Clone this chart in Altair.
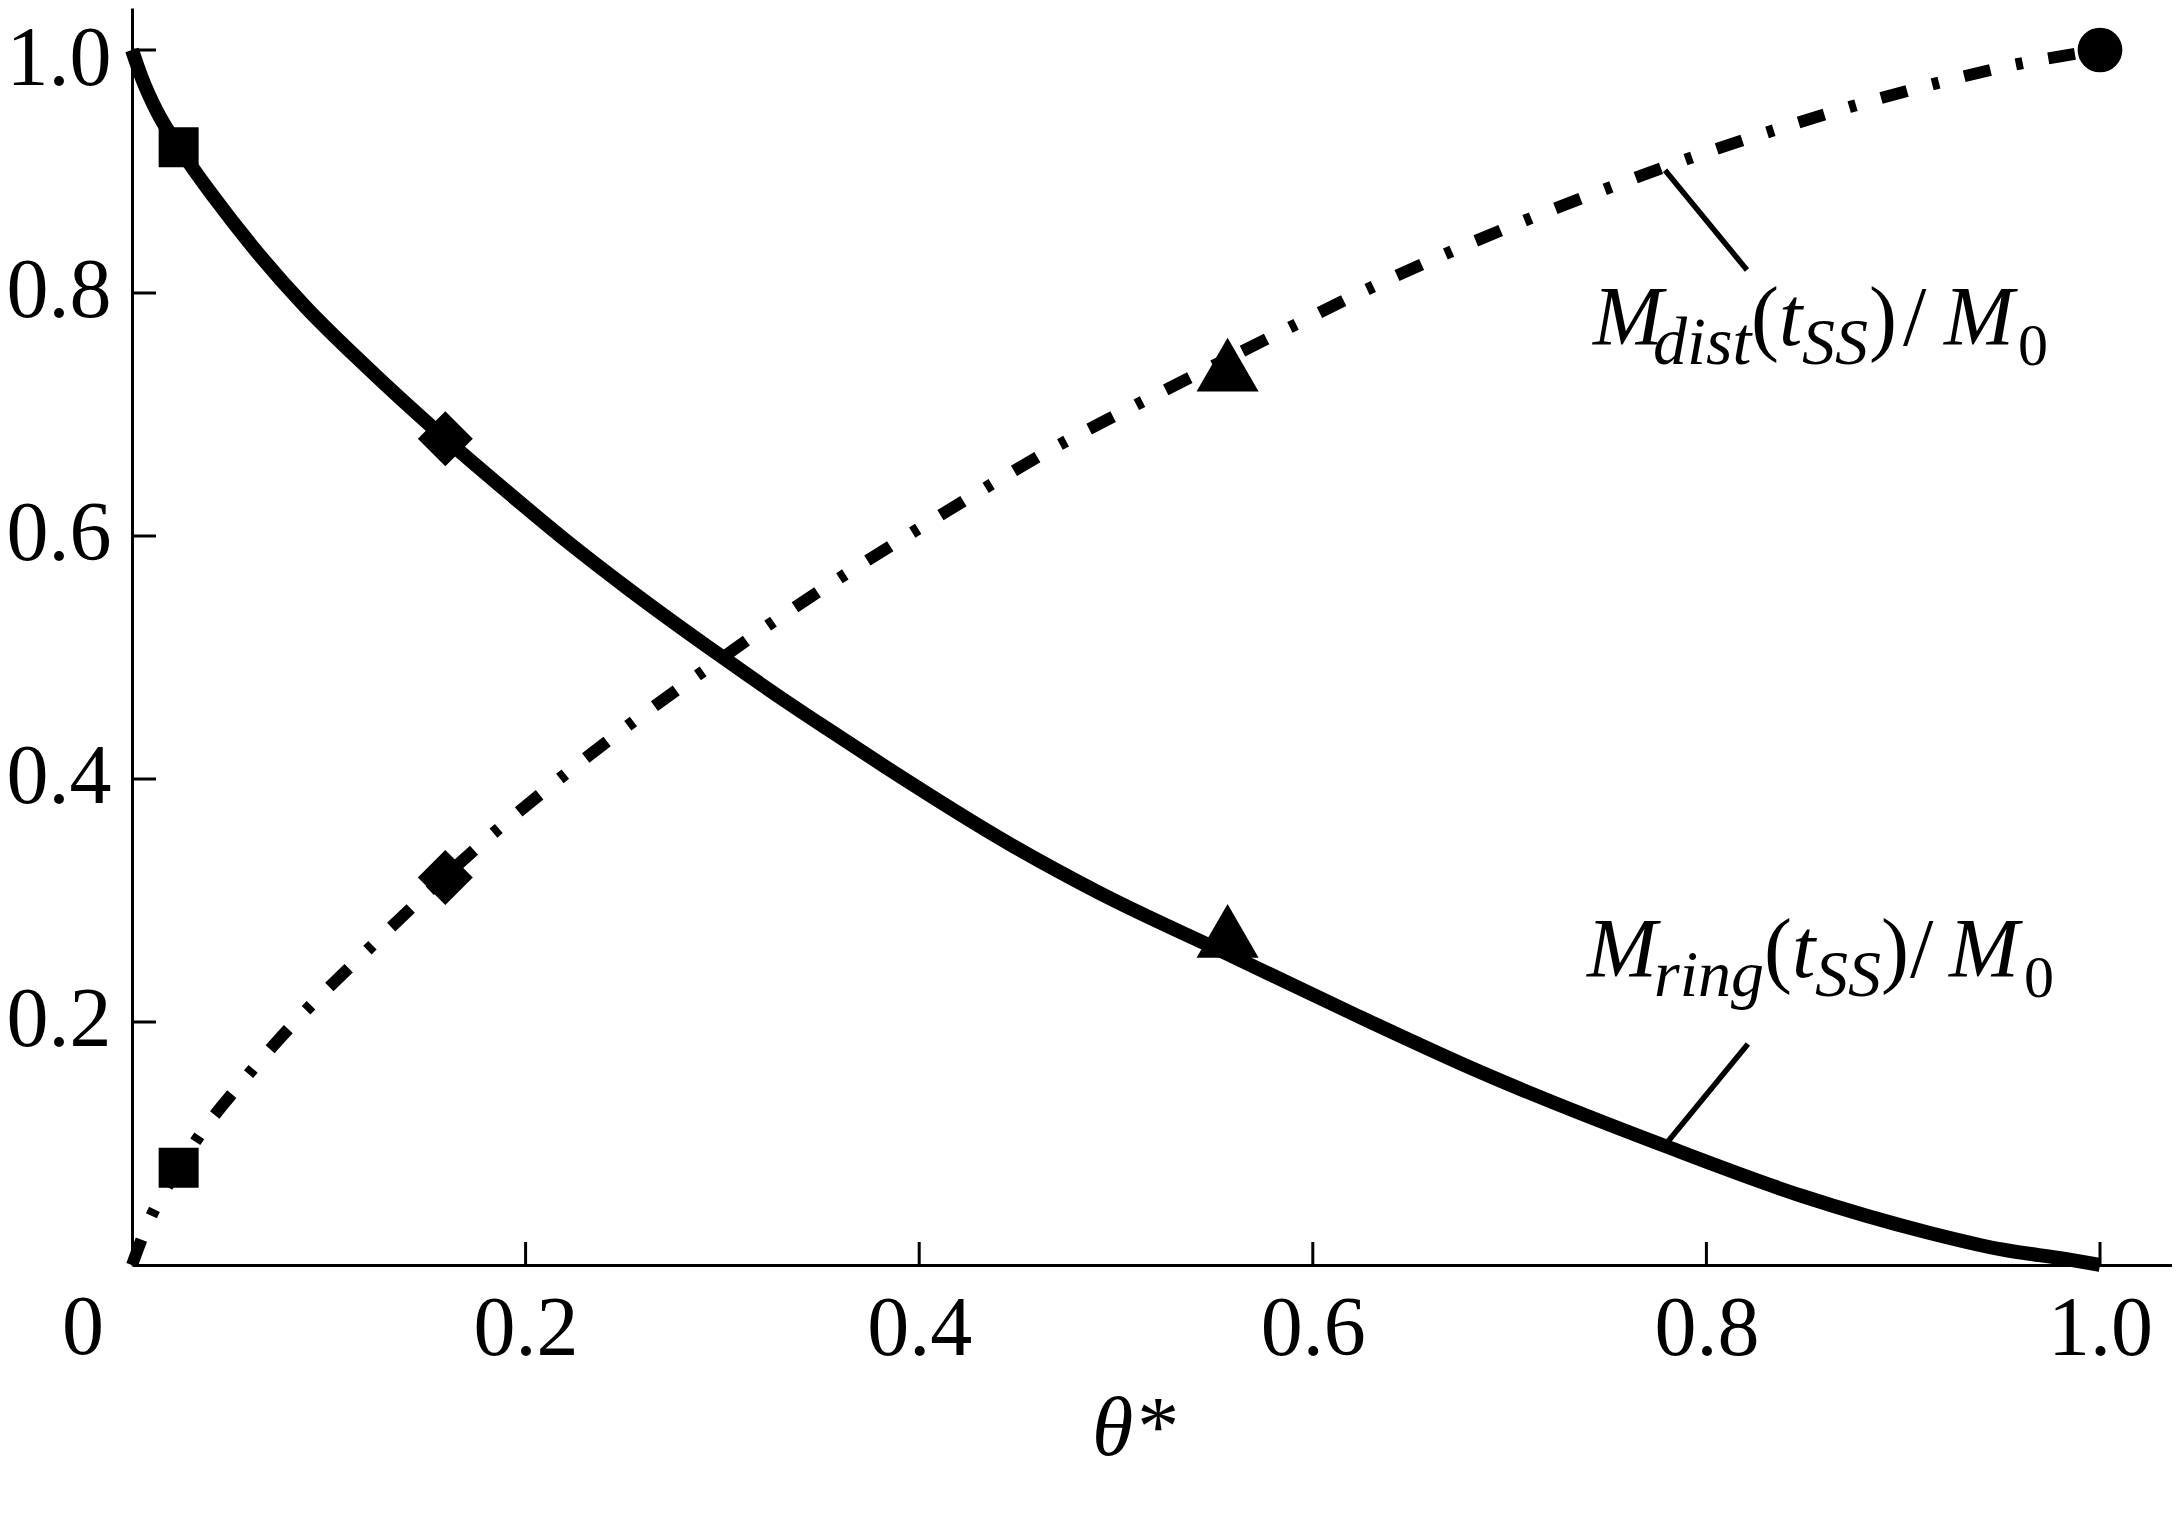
import altair as alt
import pandas as pd

FONT = "Liberation Serif"
TOP = 0
W, H = 2040, 1257 - TOP
XMAX = W / 1968.0
YMAX = H / 1215.0

# ---- data ----
ring_theta = [0.0, 0.005, 0.0125, 0.0237, 0.0425, 0.0603, 0.0879, 0.118, 0.1592,
              0.188, 0.2207, 0.253, 0.2985, 0.3277, 0.3536, 0.3828, 0.4476,
              0.4919, 0.5567, 0.6215, 0.6863, 0.7787, 0.8483, 0.913, 0.95, 0.9845, 1.0]
ring_value = [1.0, 0.977, 0.950, 0.920, 0.877, 0.840, 0.789, 0.741, 0.680,
              0.640, 0.596, 0.5555, 0.502, 0.469, 0.441, 0.410, 0.345,
              0.306, 0.256, 0.206, 0.158, 0.0981, 0.057, 0.0266, 0.0128, 0.0045, 0.0]

dist_theta = [0.0, 0.0081, 0.0237, 0.0328, 0.0571, 0.0863, 0.117, 0.1592, 0.1819,
              0.2159, 0.25, 0.3049, 0.321, 0.357, 0.3957, 0.431, 0.470, 0.4995,
              0.5567, 0.5875, 0.6264, 0.6669, 0.7074, 0.7479, 0.788, 0.8305,
              0.8727, 0.913, 0.957, 1.0]
dist_value = [0.0, 0.0342, 0.080, 0.103, 0.1529, 0.206, 0.255, 0.320, 0.353,
              0.3985, 0.4415, 0.5055, 0.524, 0.5627, 0.602, 0.637, 0.674, 0.699,
              0.746, 0.771, 0.802, 0.8318, 0.8594, 0.885, 0.909, 0.932,
              0.953, 0.971, 0.988, 1.0]

square_theta = [0.0237, 0.0237]
square_value = [0.920, 0.080]
diamond_theta = [0.1592, 0.1592]
diamond_value = [0.680, 0.319]
triangle_theta = [0.5567, 0.5567]
triangle_value = [0.275, 0.741]
circle_theta = [1.0]
circle_value = [1.0]

x_tick_values = [0.2, 0.4, 0.6, 0.8, 1.0]
y_tick_values = [0.2, 0.4, 0.6, 0.8, 1.0]

# leader lines (from curve towards label)
leader_x1 = [0.779, 0.8211]
leader_y1 = [0.901, 0.1819]
leader_x2 = [0.8206, 0.779]
leader_y2 = [0.819, 0.0988]

# label pieces: text, italic?, font size, dx (px), dy (px)
dist_label_anchor = (0.7424, 0.757)
dist_pieces = [("M", True, 84, 0, 0), ("dist", True, 68, 60, 19), ("(", False, 84, 158, 0),
               ("t", True, 84, 186, 0), ("SS", True, 66, 209, 19), (")", False, 84, 276, 0),
               ("/", False, 84, 310, 0), ("M", True, 84, 351, 0), ("0", False, 60, 425, 20)]
ring_label_anchor = (0.7393, 0.2368)
ring_pieces = [("M", True, 84, 0, 0), ("ring", True, 66, 67, 19), ("(", False, 84, 177, 0),
               ("t", True, 84, 205, 0), ("SS", True, 66, 228, 19), (")", False, 84, 294, 0),
               ("/", False, 84, 323, 0), ("M", True, 84, 362, 0), ("0", False, 60, 437, 20)]

x_title = "θ*"
origin_label = "0"

# ---- tables ----
ring_df = pd.DataFrame({"theta": ring_theta, "m": ring_value})
dist_df = pd.DataFrame({"theta": dist_theta, "m": dist_value})
xt_df = pd.DataFrame({"theta": x_tick_values})
yt_df = pd.DataFrame({"m": y_tick_values})
leader_df = pd.DataFrame({"theta": leader_x1, "m": leader_y1, "theta2": leader_x2, "m2": leader_y2})

xs = alt.Scale(domain=[0, XMAX], nice=False, zero=False)
ys = alt.Scale(domain=[0, YMAX], nice=False, zero=False)

x_axis = alt.Axis(values=x_tick_values, format=".1f", ticks=False, grid=False,
                  domainColor="black", domainWidth=3, labelFont=FONT, labelFontSize=84,
                  labelColor="black", labelPadding=23, labelFlush=False, labelOverlap=False,
                  title=x_title, titleFont=FONT, titleFontSize=84, titleFontStyle="italic",
                  titleFontWeight="normal", titleColor="black", titleX=1001, titleY=189,
                  titleAlign="center", titleBaseline="alphabetic")
y_axis = alt.Axis(values=y_tick_values, format=".1f", ticks=False, grid=False,
                  domainColor="black", domainWidth=3, labelFont=FONT, labelFontSize=84,
                  labelColor="black", labelPadding=21, labelFlush=False, labelOverlap=False,
                  labelOffset={"condition": {"test": "datum.value >= 0.99", "value": 9}, "value": -2},
                  title="")

X = alt.X("theta:Q", scale=xs, axis=x_axis, title=x_title)
Y = alt.Y("m:Q", scale=ys, axis=y_axis, title="")

ring_line = alt.Chart(ring_df).mark_line(
    color="black", strokeWidth=14, strokeCap="butt", interpolate="monotone"
).encode(x=X, y=Y)

dist_line = alt.Chart(dist_df).mark_line(
    color="black", strokeWidth=12, strokeCap="butt", interpolate="monotone",
    strokeDash=[27, 26, 7, 26]
).encode(x=X, y=Y)


def marker_layer(thetas, values, shape, size):
    df = pd.DataFrame({"theta": thetas, "m": values})
    return alt.Chart(df).mark_point(
        filled=True, color="black", opacity=1, shape=shape, size=size, strokeWidth=0
    ).encode(x=X, y=Y)


markers = [
    marker_layer(square_theta, square_value, "square", 1600),
    marker_layer(diamond_theta, diamond_value, "diamond", 3025),
    marker_layer(triangle_theta, triangle_value, "triangle-up", 3850),
    marker_layer(circle_theta, circle_value, "circle", 2000),
]

x_ticks = alt.Chart(xt_df).mark_rule(color="black", strokeWidth=3).encode(
    x=X, y=alt.value(H), y2=alt.value(H - 23),
)
y_ticks = alt.Chart(yt_df).mark_rule(color="black", strokeWidth=3).encode(
    y=Y, x=alt.value(0), x2=alt.value(24),
)

leaders = alt.Chart(leader_df).mark_rule(color="black", strokeWidth=5.5, strokeCap="butt").encode(
    x=X, y=Y, x2="theta2:Q", y2="m2:Q",
)

origin_df = pd.DataFrame({"theta": [0.0], "m": [0.0], "txt": [origin_label]})
origin_text = alt.Chart(origin_df).mark_text(
    font=FONT, fontSize=84, align="center", baseline="top", dx=-49, dy=23, color="black"
).encode(x=X, y=Y, text="txt:N")


def label_layers(anchor, pieces):
    out = []
    for txt, italic, size, dx, dy in pieces:
        df = pd.DataFrame({"theta": [anchor[0]], "m": [anchor[1]], "txt": [txt]})
        out.append(
            alt.Chart(df).mark_text(
                font=FONT, fontSize=size, fontStyle="italic" if italic else "normal",
                align="left", baseline="alphabetic", dx=dx, dy=dy, color="black"
            ).encode(x=X, y=Y, text="txt:N")
        )
    return out


layers = [ring_line, dist_line, x_ticks, y_ticks, leaders] + markers + [origin_text]
layers += label_layers(dist_label_anchor, dist_pieces)
layers += label_layers(ring_label_anchor, ring_pieces)

chart = alt.layer(*layers).properties(
    width=W, height=H,
    autosize=alt.AutoSizeParams(type="none"),
    padding={"left": 124, "top": TOP, "right": 0, "bottom": 242},
    background="white",
).configure_view(stroke=None)

chart.save("out.html", embed_options={"renderer": "svg", "actions": False})
